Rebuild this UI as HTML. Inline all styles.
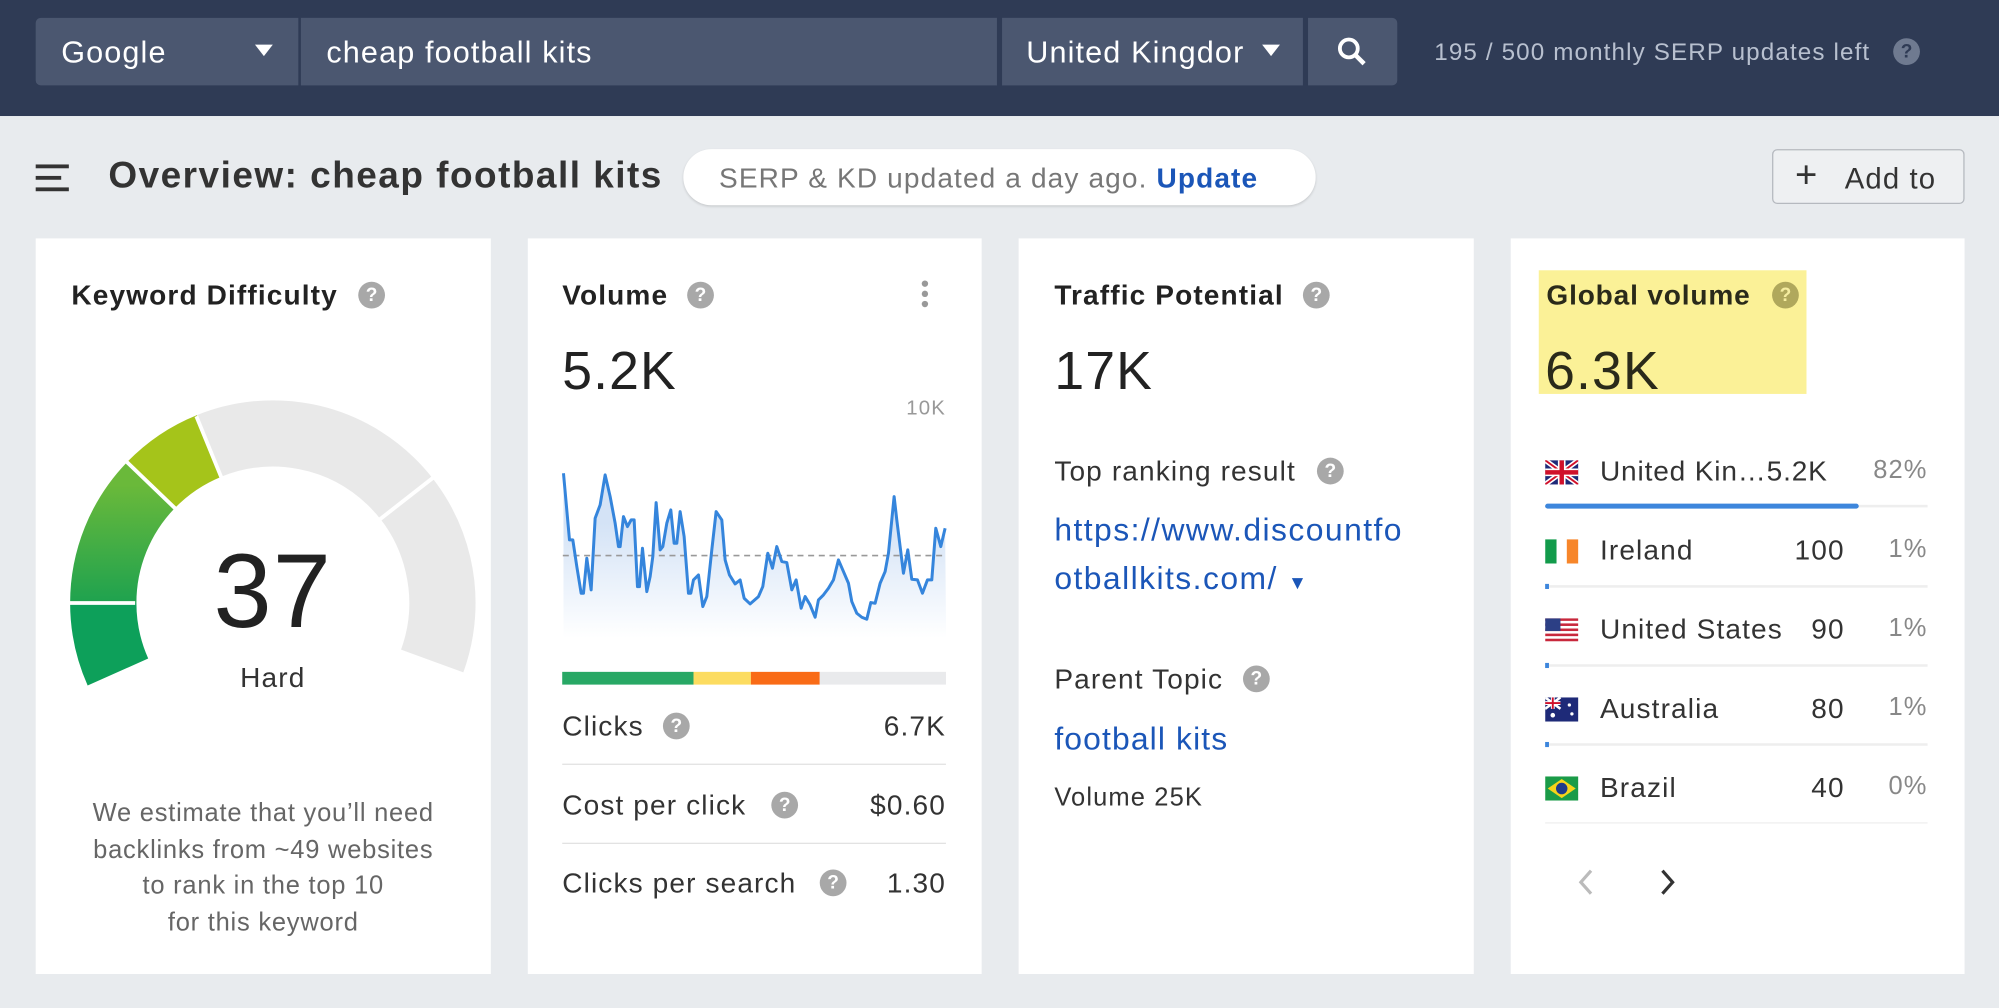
<!DOCTYPE html>
<html><head><meta charset="utf-8"><style>
*{margin:0;padding:0;box-sizing:border-box}
html,body{width:1999px;height:1008px;overflow:hidden;background:#e8ebee;font-family:"Liberation Sans",Arial,sans-serif}
#w{position:absolute;left:0;top:0;width:1568px;height:791px;transform:scale(1.27487);transform-origin:0 0;background:#e8ebee;letter-spacing:0.055em}
.a{position:absolute;white-space:nowrap}
.box{position:absolute;background:#4b5770;top:14px;height:53px}
.wt{color:#fff;font-size:24px;top:28px}
.card{position:absolute;top:187px;height:577px;background:#fff}
.t{font-weight:bold;font-size:22px;color:#222;top:219px}
.q{position:absolute;width:21px;height:21px;border-radius:50%;background:#a8a8a8;color:#fff;font-size:15px;font-weight:bold;text-align:center;line-height:21px;letter-spacing:0}
.big{font-size:42px;color:#222;top:267px}
.r{font-size:22px;color:#333}
.hr{position:absolute;height:1px;background:#e2e2e2}
.lk{color:#1b56b8;font-size:25px}
.row{font-size:22px;color:#333}
.pc{font-size:20px;color:#888}
</style></head><body><div id="w">
<div class="a" style="left:0;top:0;width:1568px;height:91px;background:#2f3b55"></div>
<div class="box" style="left:28px;width:206px;border-radius:4px 0 0 4px"></div>
<div class="box" style="left:236px;width:546px"></div>
<div class="box" style="left:786px;width:236px"></div>
<div class="box" style="left:1026px;width:70px;border-radius:0 4px 4px 0"></div>
<div class="a wt" style="left:48px">Google</div>
<div class="a" style="left:200px;top:35px;width:0;height:0;border-left:7px solid transparent;border-right:7px solid transparent;border-top:9px solid #fff"></div>
<div class="a wt" style="left:256px">cheap football kits</div>
<div class="a wt" style="left:805px">United Kingdor</div>
<div class="a" style="left:990px;top:35px;width:0;height:0;border-left:7px solid transparent;border-right:7px solid transparent;border-top:9px solid #fff"></div>
<svg class="a" style="left:1048px;top:28px" width="26" height="26"><circle cx="10" cy="10" r="7" stroke="#fff" stroke-width="3" fill="none"/><line x1="15" y1="15" x2="22" y2="22" stroke="#fff" stroke-width="3.5"/></svg>
<div class="a" style="left:1125px;top:31px;color:#b8c0cf;font-size:19px">195 / 500 monthly SERP updates left</div>
<div class="q" style="left:1485px;top:30px;background:#6f7a90;color:#2f3b55">?</div>

<div class="a" style="left:28px;top:129px;width:26px;height:3px;background:#333"></div>
<div class="a" style="left:28px;top:138px;width:20px;height:3px;background:#333"></div>
<div class="a" style="left:28px;top:147px;width:26px;height:3px;background:#333"></div>
<div class="a" style="left:85px;top:122px;font-size:29px;font-weight:bold;color:#333;letter-spacing:0.04em">Overview: cheap football kits</div>
<div class="a" style="left:536px;top:117px;width:496px;height:44px;background:#fff;border-radius:22px;box-shadow:0 1px 2px rgba(0,0,0,.15)"></div>
<div class="a" style="left:564px;top:127px;font-size:22px;color:#777">SERP &amp; KD updated a day ago. <b style="color:#1b56b8">Update</b></div>
<div class="a" style="left:1390px;top:117px;width:151px;height:43px;border:1px solid #b5b9bf;border-radius:4px;background:#eef0f2"></div>
<div class="a" style="left:1408px;top:121px;font-size:30px;color:#333">+</div>
<div class="a" style="left:1447px;top:127px;font-size:23px;color:#333">Add to</div>

<div class="card" style="left:28px;width:357px"></div>
<div class="card" style="left:414px;width:356px"></div>
<div class="card" style="left:799px;width:357px"></div>
<div class="card" style="left:1185px;width:356px"></div>

<!-- card1 -->
<div class="a t" style="left:56px">Keyword Difficulty</div><div class="q" style="left:281px;top:221px">?</div>
<svg class="a" style="left:0;top:10px" width="400" height="600">
<defs><linearGradient id="g1" x1="0" y1="0" x2="0" y2="1"><stop offset="0" stop-color="#6ab93a"/><stop offset="1" stop-color="#1ea24f"/></linearGradient></defs>
<g fill="none" stroke-width="52">
<path d="M92.5 517.1 A133 133 0 0 1 81 463" stroke="#0da05a"/>
<path d="M81 463 A133 133 0 0 1 118.3 370.6" stroke="url(#g1)"/>
<path d="M118.3 370.6 A133 133 0 0 1 164.2 339.7" stroke="#a5c41a"/>
<path d="M164.2 339.7 A133 133 0 0 1 339 508.5" stroke="#e9e9e9"/>
</g>
<g stroke="#fff" stroke-width="3">
<line x1="106" y1="463" x2="52" y2="463"/>
<line x1="138" y1="389.4" x2="99" y2="351.9"/>
<line x1="173.7" y1="364.7" x2="154" y2="316.5"/>
<line x1="297.5" y1="397.7" x2="340" y2="364.5"/>
</g></svg>
<div class="a" style="left:114px;width:200px;text-align:center;top:418px;font-size:82px;color:#222">37</div>
<div class="a" style="left:114px;width:200px;text-align:center;top:519px;font-size:22px;color:#333">Hard</div>
<div class="a" style="left:28px;width:357px;text-align:center;top:624px;font-size:20px;line-height:28.5px;color:#666;white-space:normal;letter-spacing:0.03em">We estimate that you’ll need<br>backlinks from ~49 websites<br>to rank in the top 10<br>for this keyword</div>

<!-- card2 -->
<div class="a t" style="left:441px">Volume</div><div class="q" style="left:539px;top:221px">?</div>
<div class="a" style="left:723px;top:220px;width:5px;height:5px;border-radius:50%;background:#999;box-shadow:0 8px 0 #999,0 16px 0 #999"></div>
<div class="a big" style="left:441px">5.2K</div>
<div class="a" style="left:642px;width:100px;text-align:right;top:312px;font-size:16px;color:#999">10K</div>
<svg class="a" style="left:407.9px;top:298.1px" width="360.8" height="251" viewBox="0 0 1380 960">
<defs><linearGradient id="g2" x1="0" y1="0" x2="0" y2="1"><stop offset="0.3" stop-color="#c9dcf4"/><stop offset="1" stop-color="#fff"/></linearGradient></defs>
<path fill="url(#g2)" stroke="none" d="M130 280L148 480L158 480L170 560L183 640L190 640L200 535L213 630L225 415L240 375L255 285L270 350L285 430L295 500L300 500L310 410L322 440L333 420L342 420L352 620L358 620L367 505L380 635L390 590L398 530L408 368L420 510L428 500L440 430L452 390L462 490L470 490L480 395L492 470L505 640L512 640L520 600L535 585L548 680L560 650L575 510L588 395L605 420L615 540L628 585L645 612L660 600L672 655L690 672L715 650L728 620L743 520L757 565L770 500L785 545L800 548L815 630L828 600L843 685L855 650L870 675L885 712L895 660L910 645L925 625L940 600L955 540L970 575L985 610L995 665L1010 700L1025 712L1040 718L1052 668L1065 670L1080 610L1095 575L1105 520L1122 350L1130 420L1140 500L1150 580L1163 510L1175 598L1192 600L1207 640L1222 600L1235 600L1247 445L1262 500L1275 445L1278 775L130 775Z" opacity="0.8"/>
<line x1="128" y1="527" x2="1278" y2="527" stroke="#999" stroke-width="5" stroke-dasharray="18 14"/>
<path fill="none" stroke="#3585dc" stroke-width="9" stroke-linejoin="round" d="M130 280L148 480L158 480L170 560L183 640L190 640L200 535L213 630L225 415L240 375L255 285L270 350L285 430L295 500L300 500L310 410L322 440L333 420L342 420L352 620L358 620L367 505L380 635L390 590L398 530L408 368L420 510L428 500L440 430L452 390L462 490L470 490L480 395L492 470L505 640L512 640L520 600L535 585L548 680L560 650L575 510L588 395L605 420L615 540L628 585L645 612L660 600L672 655L690 672L715 650L728 620L743 520L757 565L770 500L785 545L800 548L815 630L828 600L843 685L855 650L870 675L885 712L895 660L910 645L925 625L940 600L955 540L970 575L985 610L995 665L1010 700L1025 712L1040 718L1052 668L1065 670L1080 610L1095 575L1105 520L1122 350L1130 420L1140 500L1150 580L1163 510L1175 598L1192 600L1207 640L1222 600L1235 600L1247 445L1262 500L1275 445"/>
</svg>
<div class="a" style="left:441px;top:527px;width:103px;height:10px;background:#28a865"></div>
<div class="a" style="left:544px;top:527px;width:45px;height:10px;background:#fcdc60"></div>
<div class="a" style="left:589px;top:527px;width:54px;height:10px;background:#f96b16"></div>
<div class="a" style="left:643px;top:527px;width:99px;height:10px;background:#e9eaec"></div>
<div class="a r" style="left:441px;top:557px">Clicks</div><div class="q" style="left:520px;top:559px">?</div>
<div class="a r" style="left:642px;width:100px;text-align:right;top:557px">6.7K</div>
<div class="hr" style="left:441px;top:599px;width:301px"></div>
<div class="a r" style="left:441px;top:619px">Cost per click</div><div class="q" style="left:605px;top:621px">?</div>
<div class="a r" style="left:642px;width:100px;text-align:right;top:619px">$0.60</div>
<div class="hr" style="left:441px;top:661px;width:301px"></div>
<div class="a r" style="left:441px;top:680px">Clicks per search</div><div class="q" style="left:643px;top:682px">?</div>
<div class="a r" style="left:642px;width:100px;text-align:right;top:680px">1.30</div>

<!-- card3 -->
<div class="a t" style="left:827px">Traffic Potential</div><div class="q" style="left:1022px;top:221px">?</div>
<div class="a big" style="left:827px">17K</div>
<div class="a r" style="left:827px;top:357px">Top ranking result</div><div class="q" style="left:1033px;top:359px">?</div>
<div class="a lk" style="left:827px;top:402px;letter-spacing:0.045em">https://www.discountfo</div>
<div class="a lk" style="left:827px;top:440px;letter-spacing:0.045em">otballkits.com/ <span style="font-size:15px">▼</span></div>
<div class="a r" style="left:827px;top:520px">Parent Topic</div><div class="q" style="left:975px;top:522px">?</div>
<div class="a lk" style="left:827px;top:566px">football kits</div>
<div class="a" style="left:827px;top:615px;font-size:20px;color:#333">Volume 25K</div>

<!-- card4 -->
<div class="a" style="left:1207px;top:212px;width:210px;height:97px;background:#fbf197"></div>
<div class="a t" style="left:1213px;color:#2a2a1a;letter-spacing:0.03em">Global volume</div><div class="q" style="left:1390px;top:221px;background:#b0a85c;color:#f5eda0">?</div>
<div class="a big" style="left:1212px;color:#2a2a1a">6.3K</div>

<svg class="a" style="left:1212px;top:361px" width="26" height="19"><rect width="26" height="19" fill="#1e2a78"/><path d="M0 0L26 19M26 0L0 19" stroke="#fff" stroke-width="4"/><path d="M0 0L26 19M26 0L0 19" stroke="#d0102a" stroke-width="1.5"/><path d="M13 0V19M0 9.5H26" stroke="#fff" stroke-width="6"/><path d="M13 0V19M0 9.5H26" stroke="#d0102a" stroke-width="3.5"/></svg>
<div class="a row" style="left:1255px;top:357px;letter-spacing:0.03em">United Kin…5.2K</div><div class="a pc" style="left:1452px;width:60px;text-align:right;top:358px">82%</div>
<div class="a" style="left:1212px;top:396px;width:300px;height:2px;background:#eee"></div><div class="a" style="left:1212px;top:395px;width:246px;height:4px;background:#3d86dc;border-radius:2px"></div>

<svg class="a" style="left:1212px;top:423px" width="26" height="19"><rect width="9" height="19" fill="#129b4b"/><rect x="9" width="8" height="19" fill="#fff"/><rect x="17" width="9" height="19" fill="#f7862a"/></svg>
<div class="a row" style="left:1255px;top:419px">Ireland</div><div class="a row" style="left:1347px;width:100px;text-align:right;top:419px">100</div><div class="a pc" style="left:1452px;width:60px;text-align:right;top:420px">1%</div>
<div class="a" style="left:1212px;top:459px;width:300px;height:2px;background:#eee"></div><div class="a" style="left:1212px;top:458px;width:3px;height:4px;background:#3d86dc"></div>

<svg class="a" style="left:1212px;top:485px" width="26" height="19"><rect width="26" height="19" fill="#fff"/><g fill="#c8283c"><rect y="0" width="26" height="2"/><rect y="4" width="26" height="2"/><rect y="8" width="26" height="2"/><rect y="12" width="26" height="2"/><rect y="16" width="26" height="2"/></g><rect width="12" height="10" fill="#2c3f85"/></svg>
<div class="a row" style="left:1255px;top:481px">United States</div><div class="a row" style="left:1347px;width:100px;text-align:right;top:481px">90</div><div class="a pc" style="left:1452px;width:60px;text-align:right;top:482px">1%</div>
<div class="a" style="left:1212px;top:521px;width:300px;height:2px;background:#eee"></div><div class="a" style="left:1212px;top:520px;width:3px;height:4px;background:#3d86dc"></div>

<svg class="a" style="left:1212px;top:547px" width="26" height="19"><rect width="26" height="19" fill="#1e2a78"/><path d="M0 0L12 9M12 0L0 9" stroke="#fff" stroke-width="2"/><path d="M6 0V9M0 4.5H12" stroke="#fff" stroke-width="3"/><path d="M6 0V9M0 4.5H12" stroke="#d0102a" stroke-width="1.5"/><circle cx="19" cy="6" r="1.3" fill="#fff"/><circle cx="21" cy="13" r="1.3" fill="#fff"/><circle cx="6" cy="14" r="1.8" fill="#fff"/></svg>
<div class="a row" style="left:1255px;top:543px">Australia</div><div class="a row" style="left:1347px;width:100px;text-align:right;top:543px">80</div><div class="a pc" style="left:1452px;width:60px;text-align:right;top:544px">1%</div>
<div class="a" style="left:1212px;top:583px;width:300px;height:2px;background:#eee"></div><div class="a" style="left:1212px;top:582px;width:3px;height:4px;background:#3d86dc"></div>

<svg class="a" style="left:1212px;top:609px" width="26" height="19"><rect width="26" height="19" fill="#1a9b48"/><path d="M13 2L24 9.5L13 17L2 9.5Z" fill="#f5d31a"/><circle cx="13" cy="9.5" r="4.5" fill="#1e3a8a"/></svg>
<div class="a row" style="left:1255px;top:605px">Brazil</div><div class="a row" style="left:1347px;width:100px;text-align:right;top:605px">40</div><div class="a pc" style="left:1452px;width:60px;text-align:right;top:606px">0%</div>
<div class="a" style="left:1212px;top:645px;width:300px;height:1px;background:#eee"></div>

<svg class="a" style="left:1234px;top:680px" width="90" height="24"><path d="M14 3L6 12L14 21" fill="none" stroke="#bbb" stroke-width="2.5"/><path d="M70 3L78 12L70 21" fill="none" stroke="#333" stroke-width="2.5"/></svg>
</div></body></html>
